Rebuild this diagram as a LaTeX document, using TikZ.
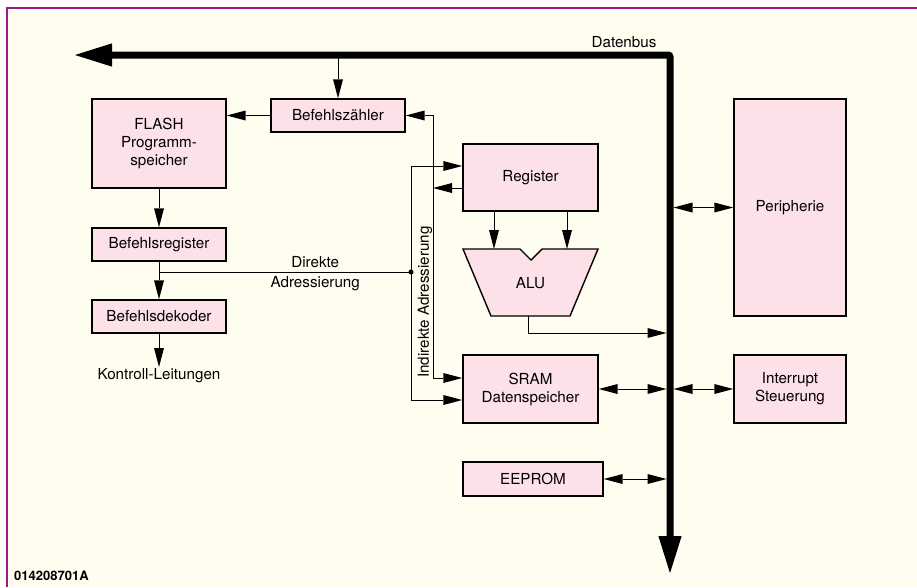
\documentclass[tikz,border=0pt]{standalone}
\usepackage{fontspec}
\setmainfont{TeX Gyre Heros}
\usetikzlibrary{arrows.meta,calc,positioning}
\definecolor{rosa}{HTML}{FCE1E8}
\definecolor{creme}{HTML}{FFFDF0}
\definecolor{lila}{HTML}{9E1A8A}
\tikzset{
  block/.style={draw,fill=rosa,line width=1.4pt,align=center,inner sep=2pt,font=\fontsize{15.2}{18}\selectfont},
  txt/.style={font=\fontsize{15.2}{18}\selectfont,inner sep=1pt},
  pfeil/.style={line width=0.9pt,-{Triangle[length=19pt,width=10pt,line width=0pt]}},
  dpfeil/.style={line width=0.9pt,{Triangle[length=19pt,width=10pt,line width=0pt]}-{Triangle[length=19pt,width=10pt,line width=0pt]}}
}

\begin{document}
\begin{tikzpicture}[x=1pt,y=-1pt]
\useasboundingbox (0,0) rectangle (917,587);
\fill[creme] (6,7) rectangle (917,587);
\draw[lila,line width=2pt] (7,587) -- (7,8) -- (917,8);

\coordinate (busL) at (75,55);
\coordinate (busK) at (670,55);
\coordinate (busE) at (670,573);

\node[block,minimum width=134pt,minimum height=89pt] (flash) at (159,143.5) {FLASH\\Programm-\\speicher};
\node[block,minimum width=134pt,minimum height=33pt] (bz) at (338,115.5) {Befehlszähler};
\node[block,minimum width=134pt,minimum height=33pt] (breg) at (159,244.5) {Befehlsregister};
\node[block,minimum width=134pt,minimum height=33pt] (bdek) at (159,316.5) {Befehlsdekoder};
\node[txt,anchor=north] (kontr) at (159,367) {Kontroll-Leitungen};
\node[block,minimum width=135pt,minimum height=67pt] (reg) at (530.5,177.5) {Register};
\node[block,minimum width=135pt,minimum height=68pt] (sram) at (530.5,389) {SRAM\\Datenspeicher};
\node[block,minimum width=140pt,minimum height=34pt] (eeprom) at (533,479) {EEPROM};
\node[block,minimum width=112pt,minimum height=217pt] (peri) at (790,207.5) {Peripherie};
\node[block,minimum width=112pt,minimum height=68pt] (intr) at (790,389) {Interrupt\\Steuerung};

\draw[line width=1.4pt,fill=rosa] (463,249) -- (520,249) -- (531,260) -- (542,249) -- (598,249) -- (570,316) -- (491,316) -- cycle;
\node[txt] (alu) at (530.5,283) {ALU};
\coordinate (aluL) at (494,249);
\coordinate (aluR) at (567,249);
\coordinate (aluOut) at (528,316);

\node[txt] (dbus) at (624,42) {Datenbus};
\node[font=\bfseries\fontsize{13}{15}\selectfont,anchor=west,inner sep=0pt] (nr) at (14,576) {014208701A};

\draw[pfeil] (bz.north |- busK) -- (bz.north);
\draw[pfeil] (bz.west) -- (bz.west -| flash.east);
\draw[pfeil] (flash.south) -- (breg.north);
\draw[pfeil] (breg.south) -- (bdek.north);
\draw[pfeil] (bdek.south) -- (kontr.north);

\coordinate (dot) at (411,272);
\draw[line width=0.9pt] (breg.south |- dot) -- node[pos=0.62,above=3pt,txt]{Direkte} node[pos=0.62,below=3pt,txt]{Adressierung} (dot);
\fill (dot) circle (2.5pt);
\draw[pfeil] (dot) |- ([yshift=11.5pt]reg.west);
\draw[pfeil] (dot) |- ([yshift=-11pt]sram.west);

\coordinate (ind) at (433,250);
\draw[pfeil] (ind) |- (bz.east);
\draw[pfeil] (ind) |- ([yshift=11pt]sram.west);
\draw[pfeil] ([yshift=-10.5pt]reg.west) -- ([yshift=-10.5pt]reg.west -| ind);
\node[txt,rotate=90] (indtxt) at (425,302) {Indirekte Adressierung};

\draw[pfeil] (reg.south -| aluL) -- (aluL);
\draw[pfeil] (reg.south -| aluR) -- (aluR);
\draw[pfeil,shorten >=3.5pt] (aluOut) |- (busK |- 0,333);
\draw[dpfeil,shorten >=3.5pt] (sram.east) -- (sram.east -| busK);
\draw[dpfeil,shorten >=3.5pt] (eeprom.east) -- (eeprom.east -| busK);
\draw[dpfeil,shorten <=3.5pt] (peri.west -| busK) -- (peri.west);
\draw[dpfeil,shorten <=3.5pt] (intr.west -| busK) -- (intr.west);

\draw[line width=7pt,rounded corners=2pt,{Triangle[length=37pt,width=23pt,line width=1pt]}-{Triangle[length=37pt,width=23pt,line width=1pt]}] (busL) -- (busK) -- (busE);
\end{tikzpicture}
\end{document}
